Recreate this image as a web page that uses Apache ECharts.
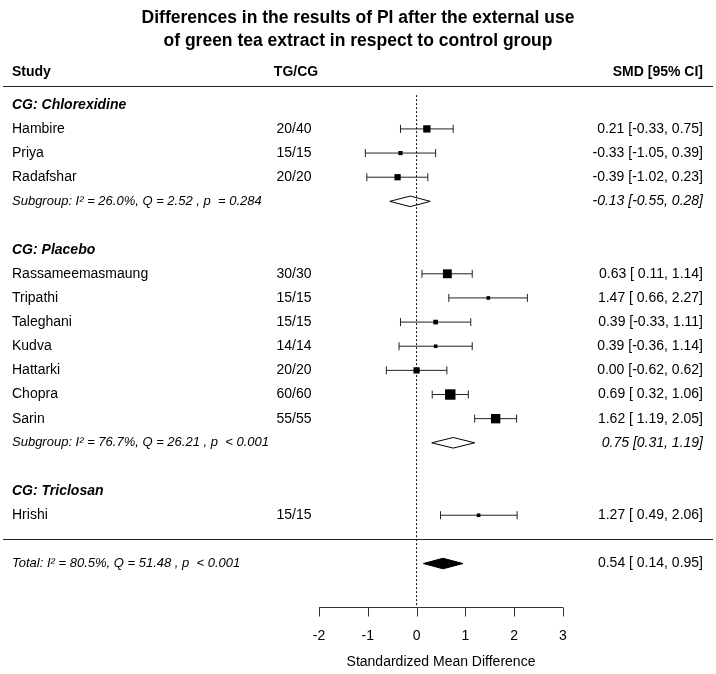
<!DOCTYPE html>
<html><head><meta charset="utf-8">
<script src="https://cdn.jsdelivr.net/npm/echarts@6/dist/echarts.min.js"></script>
<style>html,body{margin:0;padding:0;background:#fff}#c{width:716px;height:674px}</style>
</head><body><div id="c"></div>
<script>
// ---- data ----
const titleText = 'Differences in the results of PI after the external use\nof green tea extract in respect to control group';
const groupNames = ['CG: Chlorexidine', 'CG: Placebo', 'CG: Triclosan'];
const groupRows = [0, 6, 16];
const studies = ['Hambire','Priya','Radafshar','Rassameemasmaung','Tripathi','Taleghani','Kudva','Hattarki','Chopra','Sarin','Hrishi'];
const studyRows = [1, 2, 3, 7, 8, 9, 10, 11, 12, 13, 17];
const tgcg = ['20/40','15/15','20/20','30/30','15/15','15/15','14/14','20/20','60/60','55/55','15/15'];
const smd = [0.21, -0.33, -0.39, 0.63, 1.47, 0.39, 0.39, 0.00, 0.69, 1.62, 1.27];
const lower = [-0.33, -1.05, -1.02, 0.11, 0.66, -0.33, -0.36, -0.62, 0.32, 1.19, 0.49];
const upper = [0.75, 0.39, 0.23, 1.14, 2.27, 1.11, 1.14, 0.62, 1.06, 2.05, 2.06];
const weights = [11.0, 3.6, 8.1, 16.2, 2.7, 4.5, 2.7, 8.1, 22.4, 18.2, 2.7];
const subRows = [4, 14];
const subEst = [-0.13, 0.75];
const subLower = [-0.55, 0.31];
const subUpper = [0.28, 1.19];
const subStats = ['Subgroup: I² = 26.0%, Q = 2.52 , p  = 0.284', 'Subgroup: I² = 76.7%, Q = 26.21 , p  < 0.001'];
const totalRow = 19;
const totalEst = 0.54, totalLower = 0.14, totalUpper = 0.95;
const totalStats = 'Total: I² = 80.5%, Q = 51.48 , p  < 0.001';
const xTicks = [-2, -1, 0, 1, 2, 3];
const xName = 'Standardized Mean Difference';

// ---- layout ----
const FONT = '"Liberation Sans", Arial, sans-serif';
const UNIT = 24.3, ROW0 = 105;
const rowMin = -1.5, rowMax = 20.8;   // rows run top to bottom; y value = -row
const Y = r => -r;
const fmt = v => v.toFixed(2);
const ci = (e, l, u, pad) => fmt(e) + ' [' + (pad && l >= 0 ? ' ' : '') + fmt(l) + ', ' + fmt(u) + ']';

const texts = [];
const headerRow = -1.36;
texts.push({row: headerRow, x: 12, align: 'left', text: 'Study', weight: 'bold', size: 14});
texts.push({row: headerRow, x: 296, align: 'center', text: 'TG/CG', weight: 'bold', size: 14});
texts.push({row: headerRow, x: 703, align: 'right', text: 'SMD [95% CI]', weight: 'bold', size: 14});
groupNames.forEach((g, i) => texts.push({row: groupRows[i], x: 12, align: 'left', text: g, weight: 'bold', style: 'italic', size: 14}));
studies.forEach((s, i) => {
  texts.push({row: studyRows[i], x: 12, align: 'left', text: s, size: 14});
  texts.push({row: studyRows[i], x: 294, align: 'center', text: tgcg[i], size: 14});
  texts.push({row: studyRows[i], x: 703, align: 'right', text: ci(smd[i], lower[i], upper[i], true), size: 14});
});
subRows.forEach((r, i) => {
  texts.push({row: r, x: 12, align: 'left', text: subStats[i], style: 'italic', size: 13});
  texts.push({row: r, x: 703, align: 'right', text: ci(subEst[i], subLower[i], subUpper[i], false), style: 'italic', size: 14});
});
texts.push({row: totalRow, x: 12, align: 'left', text: totalStats, style: 'italic', size: 13});
texts.push({row: totalRow, x: 703, align: 'right', text: ci(totalEst, totalLower, totalUpper, true), size: 14});

const hRules = [-0.78, 17.98];

const chart = echarts.init(document.getElementById('c'));
chart.setOption({
  animation: false,
  backgroundColor: '#fff',
  title: {
    text: titleText, left: 'center', top: 2,
    textStyle: {fontFamily: FONT, fontSize: 17.5, fontWeight: 'bold', color: '#000', lineHeight: 23}
  },
  grid: {left: 319, right: 153, top: ROW0 + UNIT * rowMin, height: UNIT * (rowMax - rowMin)},
  xAxis: {
    type: 'value', min: -2, max: 3, interval: 1, position: 'bottom',
    axisLine: {show: false, onZero: false},
    axisTick: {show: false},
    splitLine: {show: false},
    axisLabel: {fontFamily: FONT, fontSize: 14, color: '#000', margin: 22,
      formatter: v => xTicks.includes(v) ? String(v) : ''},
    name: xName, nameLocation: 'middle', nameGap: 48,
    nameTextStyle: {fontFamily: FONT, fontSize: 14, color: '#000'}
  },
  yAxis: {type: 'value', min: Y(rowMax), max: Y(rowMin), show: false},
  series: [
    {
      type: 'line', data: [[0, Y(-0.4)], [0, Y(rowMax)]], symbol: 'none', silent: true,
      lineStyle: {color: '#000', width: 1, type: [2, 2]}
    },
    {
      // axis line with downward ticks
      type: 'custom', silent: true,
      data: [[xTicks[0], Y(rowMax)]],
      renderItem: (params, api) => {
        const yv = api.value(1);
        const pts = xTicks.map(v => api.coord([v, yv]));
        const y = Math.round(pts[0][1]) + 0.5;
        const st = {stroke: '#333', lineWidth: 1};
        const ch = [{type: 'line', shape: {x1: pts[0][0], y1: y, x2: pts[pts.length - 1][0], y2: y}, style: st}];
        pts.forEach(p => ch.push({type: 'line', shape: {x1: Math.round(p[0]) + 0.5, y1: y, x2: Math.round(p[0]) + 0.5, y2: y + 9}, style: st}));
        return {type: 'group', children: ch};
      }
    },
    {
      type: 'custom', silent: true,
      data: hRules.map(r => [0, Y(r)]),
      renderItem: (params, api) => {
        const y = Math.round(api.coord([0, api.value(1)])[1]) + 0.5;
        return {type: 'line', shape: {x1: 3, y1: y, x2: 713, y2: y}, style: {stroke: '#222', lineWidth: 1}};
      }
    },
    {
      type: 'custom', silent: true,
      encode: {x: [0, 2, 3], y: 1},
      data: studies.map((s, i) => [smd[i], Y(studyRows[i]), lower[i], upper[i], weights[i]]),
      renderItem: (params, api) => {
        const p = api.coord([api.value(0), api.value(1)]);
        const lo = api.coord([api.value(2), api.value(1)]);
        const hi = api.coord([api.value(3), api.value(1)]);
        const s = Math.sqrt(api.value(4)) * 2.2;
        const y = p[1];
        const ls = {stroke: '#222', lineWidth: 1};
        return {type: 'group', children: [
          {type: 'line', shape: {x1: lo[0], y1: y, x2: hi[0], y2: y}, style: ls},
          {type: 'line', shape: {x1: lo[0], y1: y - 4, x2: lo[0], y2: y + 4}, style: ls},
          {type: 'line', shape: {x1: hi[0], y1: y - 4, x2: hi[0], y2: y + 4}, style: ls},
          {type: 'rect', shape: {x: p[0] - s / 2, y: y - s / 2, width: s, height: s}, style: {fill: '#000'}}
        ]};
      }
    },
    {
      type: 'custom', silent: true,
      encode: {x: [0, 2, 3], y: 1},
      data: subRows.map((r, i) => [subEst[i], Y(r), subLower[i], subUpper[i], 0])
        .concat([[totalEst, Y(totalRow), totalLower, totalUpper, 1]]),
      renderItem: (params, api) => {
        const p = api.coord([api.value(0), api.value(1)]);
        const lo = api.coord([api.value(2), api.value(1)]);
        const hi = api.coord([api.value(3), api.value(1)]);
        const filled = api.value(4) === 1;
        const h = 5.3;
        return {type: 'polygon', shape: {points: [[lo[0], p[1]], [p[0], p[1] - h], [hi[0], p[1]], [p[0], p[1] + h]]},
          style: {fill: filled ? '#000' : '#fff', stroke: '#000', lineWidth: 1}};
      }
    },
    {
      type: 'custom', silent: true,
      data: texts.map(t => [0, Y(t.row)]),
      renderItem: (params, api) => {
        const t = texts[params.dataIndex];
        const y = api.coord([0, api.value(1)])[1];
        return {type: 'text', x: t.x, y: y, style: {
          text: t.text, fill: '#000', align: t.align, verticalAlign: 'middle',
          font: (t.style || 'normal') + ' ' + (t.weight || 'normal') + ' ' + t.size + 'px ' + FONT
        }};
      }
    }
  ]
});
</script>
</body></html>
